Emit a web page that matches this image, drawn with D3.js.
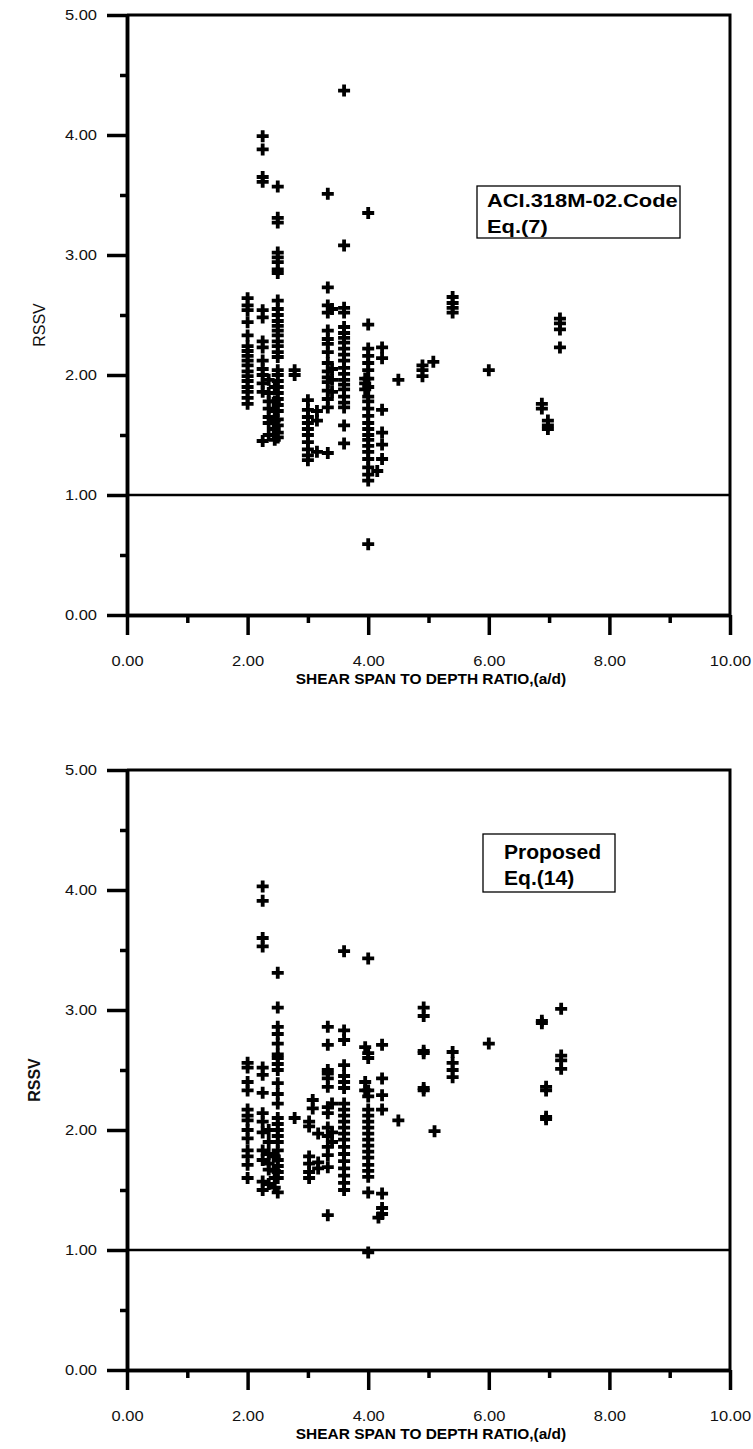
<!DOCTYPE html>
<html>
<head>
<meta charset="utf-8">
<script src="https://cdn.jsdelivr.net/npm/d3@7"></script>
<style>
  html, body { margin: 0; padding: 0; background: #fff; }
  svg { display: block; }
  text { font-family: "Liberation Sans", Arial, sans-serif; }
</style>
</head>
<body>
<svg id="chart" width="753" height="1449"></svg>
<script>
// Shear span to depth ratio (a/d) columns with the RSSV values observed at each one.
const aciColumns = [
  [2.00, [2.64, 2.58, 2.54, 2.44, 2.33, 2.24, 2.20, 2.16, 2.12, 2.08, 2.03, 1.99, 1.95, 1.90, 1.86, 1.81, 1.76]],
  [2.25, [3.99, 3.88, 3.65, 3.61, 2.54, 2.48, 2.28, 2.23, 2.12, 2.05, 2.00, 1.93, 1.86, 1.45]],
  [2.35, [1.96, 1.85, 1.78, 1.72, 1.65, 1.60, 1.50]],
  [2.45, [1.90, 1.78, 1.70, 1.62, 1.55, 1.46]],
  [2.50, [3.57, 3.31, 3.27, 3.02, 2.98, 2.94, 2.88, 2.85, 2.62, 2.55, 2.50, 2.45, 2.41, 2.37, 2.33, 2.28, 2.24, 2.19, 2.15, 2.04, 2.00, 1.95, 1.90, 1.85, 1.80, 1.75, 1.70, 1.63, 1.58, 1.52, 1.48]],
  [2.78, [2.04, 2.00]],
  [3.00, [1.79, 1.71, 1.65, 1.60, 1.55, 1.50, 1.44, 1.38, 1.33, 1.29]],
  [3.15, [1.70, 1.62, 1.36]],
  [3.33, [3.51, 2.73, 2.58, 2.52, 2.37, 2.30, 2.26, 2.19, 2.10, 2.03, 1.98, 1.94, 1.87, 1.80, 1.73, 1.35]],
  [3.40, [2.55, 2.05, 1.96, 1.86]],
  [3.60, [4.37, 3.08, 2.56, 2.52, 2.40, 2.35, 2.31, 2.27, 2.22, 2.17, 2.12, 2.06, 2.01, 1.96, 1.92, 1.88, 1.82, 1.77, 1.73, 1.58, 1.43]],
  [3.95, [1.97, 1.93, 1.88]],
  [4.00, [3.35, 2.42, 2.22, 2.16, 2.10, 2.04, 1.97, 1.90, 1.82, 1.78, 1.72, 1.66, 1.60, 1.55, 1.50, 1.46, 1.41, 1.36, 1.30, 1.23, 1.17, 1.12, 0.59]],
  [4.15, [1.20]],
  [4.23, [2.23, 2.14, 1.71, 1.52, 1.42, 1.30]],
  [4.50, [1.96]],
  [4.90, [2.08, 2.04, 1.99]],
  [5.08, [2.11]],
  [5.40, [2.65, 2.60, 2.56, 2.52]],
  [6.00, [2.04]],
  [6.88, [1.76, 1.72]],
  [6.98, [1.62, 1.58, 1.55]],
  [7.18, [2.47, 2.43, 2.38, 2.23]]
];

const proposedColumns = [
  [2.00, [2.56, 2.52, 2.40, 2.33, 2.17, 2.12, 2.08, 2.00, 1.93, 1.83, 1.78, 1.71, 1.60]],
  [2.25, [4.03, 3.91, 3.60, 3.53, 2.52, 2.46, 2.31, 2.14, 2.07, 1.98, 1.83, 1.75, 1.57, 1.50]],
  [2.35, [2.00, 1.90, 1.80, 1.72, 1.67, 1.55]],
  [2.45, [1.78, 1.66, 1.60, 1.52]],
  [2.50, [3.31, 3.02, 2.86, 2.80, 2.72, 2.63, 2.60, 2.55, 2.50, 2.39, 2.30, 2.22, 2.10, 2.05, 2.00, 1.95, 1.90, 1.83, 1.75, 1.70, 1.65, 1.60, 1.48]],
  [2.78, [2.10]],
  [3.02, [2.07, 2.03, 1.78, 1.72, 1.65, 1.60]],
  [3.08, [2.25, 2.18]],
  [3.17, [1.97, 1.73, 1.68]],
  [3.33, [2.86, 2.71, 2.50, 2.47, 2.43, 2.36, 2.19, 2.14, 2.02, 1.95, 1.86, 1.79, 1.69, 1.29]],
  [3.40, [2.22, 1.98, 1.90]],
  [3.60, [3.49, 2.83, 2.75, 2.54, 2.45, 2.40, 2.35, 2.22, 2.17, 2.12, 2.07, 2.02, 1.97, 1.92, 1.86, 1.80, 1.74, 1.68, 1.62, 1.56, 1.50]],
  [3.95, [2.69, 2.40, 2.33]],
  [4.00, [3.43, 2.64, 2.60, 2.33, 2.28, 2.17, 2.12, 2.07, 2.02, 1.97, 1.92, 1.87, 1.82, 1.77, 1.71, 1.66, 1.61, 1.48, 0.98]],
  [4.17, [1.27]],
  [4.23, [2.71, 2.43, 2.29, 2.17, 1.47, 1.35, 1.30]],
  [4.50, [2.08]],
  [4.92, [3.02, 2.95, 2.66, 2.64, 2.35, 2.33]],
  [5.10, [1.99]],
  [5.40, [2.65, 2.56, 2.50, 2.44]],
  [6.00, [2.72]],
  [6.88, [2.91, 2.89]],
  [6.95, [2.36, 2.33, 2.11, 2.09]],
  [7.20, [3.01, 2.62, 2.58, 2.51]]
];

const xMajorTicks = [0, 2, 4, 6, 8, 10];
const xMinorTicks = [1, 3, 5, 7, 9];
const yMajorTicks = [0, 1, 2, 3, 4, 5];
const yMinorTicks = [0.5, 1.5, 2.5, 3.5, 4.5];
const referenceRSSV = 1.0;
const xTitle = "SHEAR SPAN TO DEPTH RATIO,(a/d)";
const yTitle = "RSSV";
const aciLegend = ["ACI.318M-02.Code", "Eq.(7)"];
const proposedLegend = ["Proposed", "Eq.(14)"];

const svg = d3.select("#chart");
const fmt = d3.format(".2f");
const WIDEN = 1.1; // tick labels in this figure are set slightly wide

function flatten(columns) {
  const pts = [];
  columns.forEach(([ad, vals]) => vals.forEach(v => pts.push([ad, v])));
  return pts;
}

function widen(sel, factor) {
  sel.each(function () {
    const w = this.getComputedTextLength();
    d3.select(this).attr("textLength", w * factor).attr("lengthAdjust", "spacingAndGlyphs");
  });
}

function drawPanel(opts) {
  const left = 127, right = 730;
  const top = opts.top, bottom = opts.top + 600;
  const x = d3.scaleLinear().domain([0, 10]).range([left, right]);
  const y = d3.scaleLinear().domain([0, 5]).range([bottom, top]);
  const g = svg.append("g");

  // reference line RSSV = 1
  g.append("line")
    .attr("x1", x(0)).attr("x2", x(10))
    .attr("y1", y(referenceRSSV)).attr("y2", y(referenceRSSV))
    .attr("stroke", "#000").attr("stroke-width", 2.6);

  // frame: top and right edges
  g.append("path")
    .attr("d", `M${x(0)},${y(5)}H${x(10)}V${y(0)}`)
    .attr("fill", "none").attr("stroke", "#000").attr("stroke-width", 3);

  // y axis
  const yMinor = g.append("g").attr("transform", `translate(${left},0)`)
    .call(d3.axisLeft(y).tickValues(yMinorTicks).tickSize(7).tickSizeOuter(0).tickFormat(""));
  const yMajor = g.append("g").attr("transform", `translate(${left},0)`)
    .call(d3.axisLeft(y).tickValues(yMajorTicks).tickSize(20).tickSizeOuter(0).tickPadding(10).tickFormat(fmt));

  // x axis
  const xMinor = g.append("g").attr("transform", `translate(0,${bottom})`)
    .call(d3.axisBottom(x).tickValues(xMinorTicks).tickSize(8).tickSizeOuter(0).tickFormat(""));
  const xMajor = g.append("g").attr("transform", `translate(0,${bottom})`)
    .call(d3.axisBottom(x).tickValues(xMajorTicks).tickSize(20).tickSizeOuter(0).tickPadding(20).tickFormat(fmt));

  [yMinor, yMajor, xMinor, xMajor].forEach(a => {
    a.selectAll("path.domain").attr("stroke", "#000").attr("stroke-width", 3.5);
    a.selectAll(".tick line").attr("stroke", "#000").attr("stroke-width", 3.5);
    a.selectAll(".tick text")
      .attr("font-family", "'Liberation Sans', Arial, sans-serif")
      .attr("font-size", 15).attr("fill", "#111");
  });
  widen(yMajor.selectAll(".tick text"), WIDEN);
  widen(xMajor.selectAll(".tick text"), WIDEN);

  // axis titles
  const xt = g.append("text")
    .attr("x", 431).attr("y", bottom + 69)
    .attr("text-anchor", "middle")
    .attr("font-size", 15).attr("font-weight", "bold").attr("fill", "#000")
    .text(xTitle);
  widen(xt, 1.03);

  g.append("text")
    .attr("transform", `translate(${opts.yTitleX},${top + 310}) rotate(-90)`)
    .attr("text-anchor", "middle")
    .attr("font-size", 16).attr("font-weight", opts.yTitleBold ? "bold" : "normal").attr("fill", "#111")
    .text(yTitle);

  // data markers
  g.append("g").selectAll("path")
    .data(flatten(opts.columns))
    .join("path")
    .attr("transform", d => `translate(${x(d[0])},${y(d[1])})`)
    .attr("d", "M-6,0H6M0,-6V6")
    .attr("stroke", "#000").attr("stroke-width", 3.8).attr("fill", "none");

  // legend box
  const lb = opts.legendBox;
  g.append("rect")
    .attr("x", lb.x).attr("y", top + lb.y).attr("width", lb.w).attr("height", lb.h)
    .attr("fill", "#fff").attr("stroke", "#000").attr("stroke-width", 1.3);
  opts.legend.forEach((t, i) => {
    const lt = g.append("text")
      .attr("x", lb.tx).attr("y", top + lb.y + lb.b0 + i * lb.lh)
      .attr("font-size", lb.fs).attr("font-weight", "bold").attr("fill", "#000")
      .text(t);
    widen(lt, lb.stretch);
  });
}

drawPanel({
  top: 15,
  columns: aciColumns,
  legend: aciLegend,
  legendBox: { x: 477, y: 171, w: 203, h: 52, tx: 487, b0: 21, lh: 26, fs: 19, stretch: 1.15 },
  yTitleX: 45,
  yTitleBold: false
});

drawPanel({
  top: 770,
  columns: proposedColumns,
  legend: proposedLegend,
  legendBox: { x: 483, y: 64, w: 132, h: 58, tx: 504, b0: 25, lh: 26, fs: 19.5, stretch: 1.08 },
  yTitleX: 40,
  yTitleBold: true
});
</script>
</body>
</html>
